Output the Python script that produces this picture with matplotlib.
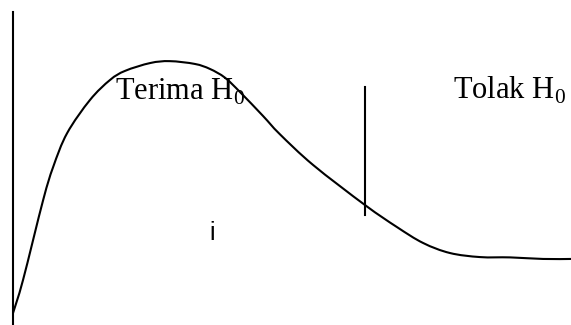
import matplotlib
matplotlib.use('Agg')
import matplotlib.pyplot as plt
import numpy as np
from matplotlib.path import Path
from matplotlib.patches import PathPatch

plt.rcParams['mathtext.fontset'] = 'custom'
plt.rcParams['mathtext.rm'] = 'Liberation Serif'

# curve (abstract units, axis at x=0)
curve_x = [0, 0.18, 0.54, 0.72, 0.97, 1.38, 1.74, 2.01, 2.46, 2.81, 3.26,
           3.53, 3.80, 4.07, 4.48, 4.78, 5.38, 6.31, 6.88, 7.35, 7.83,
           8.37, 8.91, 9.5, 10]
curve_y = [0.38, 1.44, 3.99, 5.05, 6.13, 7.19, 7.83, 8.12, 8.37, 8.43, 8.34,
           8.18, 7.90, 7.44, 6.68, 6.10, 5.11, 3.83, 3.13, 2.62, 2.30,
           2.17, 2.16, 2.11, 2.11]

# critical value line
crit_x = 6.31
crit_y = [3.51, 7.60]

labels = ['Terima H$_{\\mathrm{0}}$', 'Tolak H$_{\\mathrm{0}}$']
label_x = [1.83, 7.89]
label_y = [7.19, 7.22]

fig = plt.figure(figsize=(5.71, 3.25), dpi=100)
ax = fig.add_axes([13/571, 0, 558/571, 313/325])
ax.set_xlim(0, 10)
ax.set_ylim(0, 10)

# smooth curve through the points: catmull-rom segments as bezier path
pts = np.column_stack([curve_x, curve_y])
verts = [pts[0]]
codes = [Path.MOVETO]
for i in range(len(pts) - 1):
    p0 = pts[max(i - 1, 0)]
    p1 = pts[i]
    p2 = pts[i + 1]
    p3 = pts[min(i + 2, len(pts) - 1)]
    verts += [p1 + (p2 - p0) / 6, p2 - (p3 - p1) / 6, p2]
    codes += [Path.CURVE4] * 3
ax.add_patch(PathPatch(Path(verts, codes), facecolor='none',
                       edgecolor='black', linewidth=1.5))

ax.plot([crit_x, crit_x], crit_y, color='black', linewidth=1.5)

for t, lx, ly in zip(labels, label_x, label_y):
    ax.text(lx, ly, t, fontsize=22, family='Liberation Serif',
            ha='left', va='baseline')

ax.text(3.57, 2.72, 'i', fontsize=18, family='Liberation Sans',
        ha='center', va='baseline')

# only the left axis line is drawn
for s in ['top', 'right', 'bottom']:
    ax.spines[s].set_visible(False)
ax.spines['left'].set_linewidth(1.5)
ax.set_xticks([])
ax.set_yticks([])

fig.savefig('out.png', dpi=100)
